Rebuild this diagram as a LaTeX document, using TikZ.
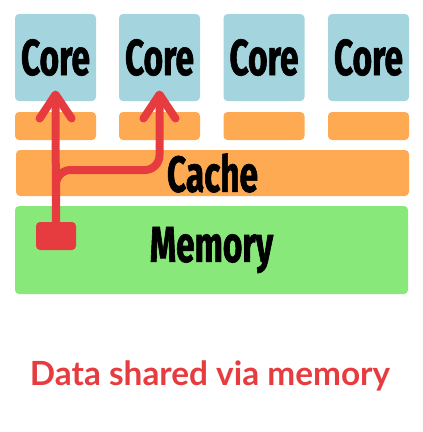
\documentclass[tikz,border=0pt]{standalone}
\usepackage{fontspec}
\setmainfont{Lato}
\newfontfamily\condfont[FakeStretch=0.66,FakeBold=1.2]{Fira Sans}
\usetikzlibrary{arrows.meta}

\definecolor{coreblue}{RGB}{164,213,223}
\definecolor{cacheorange}{RGB}{253,170,83}
\definecolor{memgreen}{RGB}{137,232,122}
\definecolor{datared}{RGB}{230,60,64}

\tikzset{every picture/.style={line width=0.75pt}}
\tikzset{
  block/.style={rounded corners=3pt, inner sep=0pt, font=\condfont\bfseries\fontsize{38}{38}\selectfont},
  corebox/.style={block, fill=coreblue, minimum width=60.75pt, minimum height=65.25pt},
  l1box/.style={block, fill=cacheorange, minimum width=60.75pt, minimum height=21pt},
  datapath/.style={draw=datared, line width=6pt, line cap=round, line join=round,
    -{Straight Barb[length=18pt, width=24pt, round]}}
}

\begin{document}
\begin{tikzpicture}[x=0.75pt,y=0.75pt,yscale=-1,xscale=1]
\useasboundingbox (0,0) rectangle (422,432);

%Shape: Cores
\node [corebox] (core1) at (55.5,57.5) {Core};
\node [corebox] (core2) at (159.5,57.5) {Core};
\node [corebox] (core3) at (264,57.5) {Core};
\node [corebox] (core4) at (368.5,57.5) {Core};

%Shape: Private caches
\node [l1box] (l1a) at (55.5,126) {};
\node [l1box] (l1b) at (159.5,126) {};
\node [l1box] (l1c) at (264,126) {};
\node [l1box] (l1d) at (368.5,126) {};

%Shape: Shared cache
\node [block, fill=cacheorange, minimum width=294.75pt, minimum height=34.5pt] (cache) at (212.5,173) {Cache};

%Shape: Memory
\node [block, fill=memgreen, minimum width=294.75pt, minimum height=66pt] (memory) at (211.5,250) {Memory};

%Shape: Data in memory
\node [fill=datared, rounded corners=3pt, minimum width=30pt, minimum height=21pt, inner sep=0pt] (data) at (56,236) {};

% Arrow targets
\coordinate (tip1) at ([yshift=-8.25pt]core1.south);
\coordinate (tip2) at ([yshift=-8.25pt]core2.south);
\coordinate (hop) at (159.5,170);

%Straight Lines
\draw [datapath, rounded corners=11pt] (data.center) |- (hop) -- (tip2);
\draw [datapath] (data.center) -- (tip1);

% Text Node
\node [text=datared, font=\bfseries\fontsize{25}{25}\selectfont] (caption) at (210,376) {Data shared via memory};

\end{tikzpicture}
\end{document}
